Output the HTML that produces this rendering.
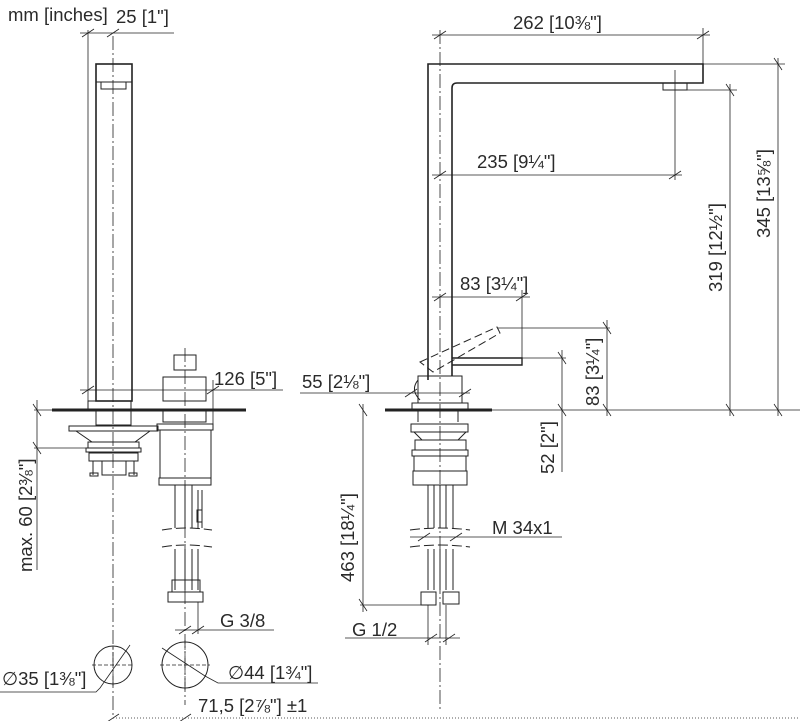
<!DOCTYPE html>
<html><head><meta charset="utf-8"><style>
html,body{margin:0;padding:0;background:#fff;}
svg{display:block;}
text{font-family:"Liberation Sans","DejaVu Sans",sans-serif;fill:#2a2a2a;}
</style></head><body>
<svg width="800" height="721" viewBox="0 0 800 721" xmlns="http://www.w3.org/2000/svg">
<g fill="none" stroke="#222" stroke-width="1">
<rect x="96" y="64" width="36" height="337" stroke-width="1.6"/>
<line x1="96" y1="82" x2="132" y2="82"/>
<rect x="101" y="82" width="25" height="7"/>
<rect x="88" y="401" width="43" height="9"/>
<line x1="52" y1="410" x2="246" y2="410" stroke-width="3"/>
<rect x="96" y="410" width="35" height="15"/>
<path d="M69 426 H158 V431 H69 Z"/>
<path d="M76 431 L92 442 H135 L150 431"/>
<rect x="88" y="442" width="51" height="6"/>
<rect x="86" y="448" width="55" height="4"/>
<rect x="89" y="453" width="49" height="8"/>
<rect x="102" y="461" width="24" height="14"/>
<line x1="93" y1="461" x2="93" y2="475"/><line x1="134" y1="461" x2="134" y2="475"/>
<rect x="90" y="473" width="8" height="3"/><rect x="129" y="473" width="8" height="3"/>
<rect x="174" y="355" width="22" height="15"/>
<rect x="163" y="377" width="43" height="24"/>
<rect x="163" y="410" width="43" height="12"/>
<rect x="157" y="424" width="56" height="6"/>
<rect x="160" y="430" width="51" height="48"/>
<rect x="159" y="478" width="52" height="7"/>
<path d="M175 485 V528 M185 485 V528 M192 485 V528 M198 490 V528 M202 490 V528"/>
<rect x="197" y="510" width="5" height="12"/>
<path d="M162 530 Q185 526 212 530 M162 547 Q185 543 212 547" stroke-dasharray="10 4"/>
<path d="M175 549 V590 M185 549 V590 M192 549 V590 M198 549 V590"/>
<rect x="172" y="580" width="28" height="12"/>
<rect x="168" y="592" width="35" height="10"/>
<line x1="113" y1="36" x2="113" y2="718" stroke-dasharray="14 3 2 3" stroke-width="0.8"/>
<line x1="185" y1="348" x2="185" y2="705" stroke-dasharray="14 3 2 3" stroke-width="0.8"/>
<line x1="88" y1="30" x2="88" y2="410" stroke-width="0.8"/>
<line x1="80" y1="33" x2="174" y2="33" stroke-width="0.8"/>
<path d="M82 37 L94 29 M107 37 L119 29" stroke-width="0.8"/>
<line x1="80" y1="390" x2="283" y2="390" stroke-width="0.8"/>
<line x1="213" y1="380" x2="213" y2="425" stroke-width="0.8"/>
<path d="M82 394 L94 386 M207 394 L219 386" stroke-width="0.8"/>
<line x1="37" y1="400" x2="37" y2="570" stroke-width="0.8"/>
<line x1="34" y1="410" x2="52" y2="410" stroke-width="0.8"/>
<line x1="34" y1="448" x2="88" y2="448" stroke-width="0.8"/>
<path d="M33 404 L41 416 M33 442 L41 454" stroke-width="0.8"/>
<line x1="175" y1="630" x2="274" y2="630" stroke-width="0.8"/>
<line x1="198" y1="602" x2="198" y2="634" stroke-width="0.8"/>
<path d="M179 634 L191 626 M192 634 L204 626" stroke-width="0.8"/>
<circle cx="113" cy="665" r="19"/>
<circle cx="185" cy="665" r="23"/>
<path d="M92 665 H134 M113 646 V686 M160 665 H210 M185 640 V690" stroke-dasharray="4 2" stroke-width="0.7"/>
<path d="M130 645 L100 688 L96 692 H0" stroke-width="0.8"/>
<path d="M162 648 L205 676 L218 683 H318" stroke-width="0.8"/>
<line x1="113" y1="718" x2="800" y2="718" stroke-dasharray="1 2" stroke-width="0.8"/>
<path d="M107 722 L119 714 M179 722 L191 714" stroke-width="0.8"/>

<path d="M428 380 V64 H703 V83 H457 Q452 83 452 88 V376" stroke-width="1.6"/>
<rect x="663" y="83" width="24" height="7"/>
<line x1="675" y1="70" x2="675" y2="180" stroke-width="0.8"/>
<path d="M452 358 H522 V365 H452" stroke-width="1.4"/>
<path d="M420 362 L497 327 L500 333 L433 372 Z" stroke-dasharray="8 4"/>
<path d="M418 376 H462 V403 H418 Z"/>
<path d="M418 380 Q410 390 420 400"/>
<rect x="412" y="403" width="56" height="7"/>
<line x1="385" y1="410" x2="492" y2="410" stroke-width="3"/>
<path d="M418 410 V422 M458 410 V422"/>
<rect x="411" y="424" width="57" height="8"/>
<path d="M414 432 L422 440 H458 L466 432"/>
<rect x="415" y="440" width="51" height="10"/>
<rect x="412" y="450" width="56" height="6"/>
<rect x="414" y="456" width="52" height="15"/>
<rect x="413" y="471" width="54" height="14"/>
<path d="M428 485 V528 M434 485 V528 M440 485 V528 M446 485 V528 M453 485 V528"/>
<path d="M410 530 Q440 526 470 530 M410 547 Q440 543 470 547" stroke-dasharray="10 4"/>
<path d="M428 549 V590 M434 549 V590 M440 549 V590 M446 549 V590 M453 549 V590"/>
<rect x="421" y="592" width="15" height="13"/>
<rect x="443" y="592" width="16" height="12"/>
<line x1="440" y1="30" x2="440" y2="712" stroke-dasharray="14 3 2 3" stroke-width="0.8"/>
<line x1="432" y1="35" x2="710" y2="35" stroke-width="0.8"/>
<line x1="703" y1="28" x2="703" y2="64" stroke-width="0.8"/>
<path d="M434 39 L446 31 M697 39 L709 31" stroke-width="0.8"/>
<line x1="432" y1="175" x2="682" y2="175" stroke-width="0.8"/>
<path d="M434 179 L446 171 M669 179 L681 171" stroke-width="0.8"/>
<line x1="432" y1="297" x2="530" y2="297" stroke-width="0.8"/>
<line x1="522" y1="290" x2="522" y2="358" stroke-width="0.8"/>
<path d="M434 301 L446 293 M516 301 L528 293" stroke-width="0.8"/>
<line x1="703" y1="64" x2="785" y2="64" stroke-width="0.8"/>
<line x1="687" y1="90" x2="737" y2="90" stroke-width="0.8"/>
<line x1="492" y1="410" x2="800" y2="410" stroke-width="0.8"/>
<line x1="778" y1="58" x2="778" y2="416" stroke-width="0.8"/>
<path d="M774 58 L782 70 M774 404 L782 416" stroke-width="0.8"/>
<line x1="730" y1="84" x2="730" y2="416" stroke-width="0.8"/>
<path d="M726 84 L734 96 M726 404 L734 416" stroke-width="0.8"/>
<line x1="497" y1="328" x2="610" y2="328" stroke-width="0.8"/>
<line x1="607" y1="320" x2="607" y2="416" stroke-width="0.8"/>
<path d="M603 322 L611 334 M603 404 L611 416" stroke-width="0.8"/>
<line x1="522" y1="358" x2="566" y2="358" stroke-width="0.8"/>
<line x1="562" y1="350" x2="562" y2="472" stroke-width="0.8"/>
<path d="M558 352 L566 364 M558 404 L566 416" stroke-width="0.8"/>
<line x1="300" y1="393" x2="470" y2="393" stroke-width="0.8"/>
<path d="M405 397 L417 389 M459 397 L471 389" stroke-width="0.8"/>
<line x1="363" y1="404" x2="363" y2="612" stroke-width="0.8"/>
<line x1="360" y1="605" x2="421" y2="605" stroke-width="0.8"/>
<path d="M359 404 L367 416 M359 599 L367 611" stroke-width="0.8"/>
<line x1="410" y1="537" x2="562" y2="537" stroke-width="0.8"/>
<path d="M418 541 L430 533 M450 541 L462 533" stroke-width="0.8"/>
<line x1="345" y1="638" x2="460" y2="638" stroke-width="0.8"/>
<path d="M425 642 L437 634 M443 642 L455 634" stroke-width="0.8"/>
<path d="M428 605 V645 M446 605 V645" stroke-width="0.8"/>
</g>
<g font-size="18.5">
<text x="8" y="21">mm [inches]</text>
<text x="116" y="23">25 [1"]</text>
<text x="214" y="385">126 [5"]</text>
<text x="302" y="388">55 [2⅛"]</text>
<text x="460" y="290">83 [3¼"]</text>
<text x="477" y="168">235 [9¼"]</text>
<text x="513" y="29">262 [10⅜"]</text>
<text x="492" y="534">M 34x1</text>
<text x="352" y="636">G 1/2</text>
<text x="220" y="627">G 3/8</text>
<text x="2" y="685">∅35 [1⅜"]</text>
<text x="228" y="679">∅44 [1¾"]</text>
<text x="198" y="712">71,5 [2⅞"] ±1</text>
<text transform="translate(32,572) rotate(-90)">max. 60 [2⅜"]</text>
<text transform="translate(354,582) rotate(-90)">463 [18¼"]</text>
<text transform="translate(554,474) rotate(-90)">52 [2"]</text>
<text transform="translate(599,406) rotate(-90)">83 [3¼"]</text>
<text transform="translate(722,292) rotate(-90)">319 [12½"]</text>
<text transform="translate(770,238) rotate(-90)">345 [13⅝"]</text>
</g>
</svg>
</body></html>
